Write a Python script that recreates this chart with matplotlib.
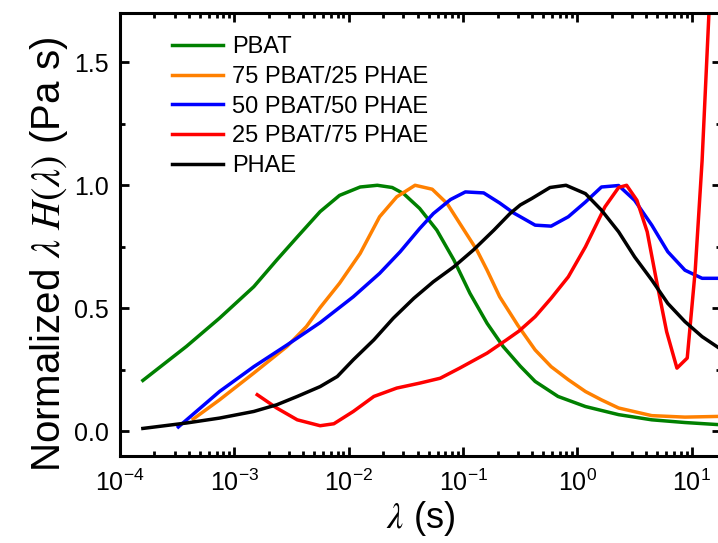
import numpy as np
import matplotlib
matplotlib.use('Agg')
import matplotlib.pyplot as plt
from matplotlib.ticker import LogLocator, MultipleLocator, NullFormatter

plt.rcParams['font.family'] = ['Liberation Sans', 'DejaVu Sans']
plt.rcParams['mathtext.fontset'] = 'stix'

# relaxation spectra, exponents of lambda (s) and normalized lambda*H(lambda)
log_lam_pbat = [-3.80, -3.42, -3.13, -2.83, -2.63, -2.45, -2.25, -2.08, -1.90, -1.75,
                -1.62, -1.52, -1.38, -1.23, -1.08, -0.94, -0.79, -0.65, -0.50, -0.37,
                -0.17, 0.07, 0.36, 0.65, 0.94, 1.25]
h_pbat = [0.207, 0.345, 0.460, 0.588, 0.696, 0.790, 0.893, 0.959, 0.993, 1.000,
          0.991, 0.966, 0.906, 0.818, 0.696, 0.561, 0.439, 0.345, 0.265, 0.203,
          0.142, 0.101, 0.068, 0.047, 0.036, 0.027]

log_lam_75 = [-3.36, -3.13, -2.83, -2.54, -2.37, -2.25, -2.08, -1.90, -1.73, -1.58,
              -1.42, -1.27, -1.14, -1.00, -0.88, -0.79, -0.68, -0.52, -0.37, -0.23,
              -0.08, 0.07, 0.21, 0.36, 0.65, 0.94, 1.25]
h_75 = [0.050, 0.128, 0.237, 0.345, 0.426, 0.503, 0.602, 0.723, 0.872, 0.953,
        1.000, 0.984, 0.926, 0.824, 0.737, 0.655, 0.547, 0.430, 0.331, 0.263,
        0.210, 0.162, 0.128, 0.095, 0.064, 0.058, 0.061]

log_lam_50 = [-3.49, -3.13, -2.83, -2.54, -2.25, -1.96, -1.73, -1.55, -1.38, -1.26,
              -1.11, -0.98, -0.82, -0.68, -0.56, -0.51, -0.37, -0.23, -0.08, 0.07,
              0.21, 0.36, 0.50, 0.65, 0.79, 0.94, 1.09, 1.25]
h_50 = [0.018, 0.162, 0.263, 0.351, 0.442, 0.547, 0.642, 0.730, 0.824, 0.885,
        0.942, 0.973, 0.969, 0.928, 0.888, 0.875, 0.838, 0.834, 0.872, 0.932,
        0.993, 0.999, 0.939, 0.838, 0.730, 0.655, 0.622, 0.622]

log_lam_25 = [-2.80, -2.63, -2.45, -2.25, -2.13, -1.96, -1.78, -1.58, -1.38, -1.20,
              -1.03, -0.79, -0.62, -0.51, -0.37, -0.23, -0.08, 0.07, 0.24, 0.36,
              0.43, 0.52, 0.61, 0.69, 0.78, 0.87, 0.96, 1.03, 1.09, 1.16]
h_25 = [0.149, 0.095, 0.047, 0.023, 0.031, 0.081, 0.142, 0.176, 0.196, 0.216,
        0.257, 0.318, 0.372, 0.408, 0.466, 0.541, 0.628, 0.750, 0.912, 0.991,
        1.000, 0.939, 0.811, 0.615, 0.405, 0.257, 0.298, 0.655, 1.100, 1.800]

log_lam_phae = [-3.80, -3.42, -3.13, -2.83, -2.63, -2.45, -2.25, -2.10, -1.96, -1.78,
                -1.61, -1.43, -1.26, -1.08, -0.91, -0.73, -0.59, -0.50, -0.40, -0.24,
                -0.10, 0.07, 0.21, 0.36, 0.50, 0.65, 0.79, 0.94, 1.09, 1.25]
h_phae = [0.012, 0.034, 0.054, 0.081, 0.108, 0.142, 0.182, 0.223, 0.291, 0.372,
          0.460, 0.541, 0.608, 0.669, 0.737, 0.818, 0.885, 0.920, 0.946, 0.991,
          1.000, 0.966, 0.899, 0.811, 0.709, 0.615, 0.520, 0.446, 0.385, 0.335]

series = [
    ('PBAT', log_lam_pbat, h_pbat, '#008000'),
    ('75 PBAT/25 PHAE', log_lam_75, h_75, '#FF8000'),
    ('50 PBAT/50 PHAE', log_lam_50, h_50, '#0000FF'),
    ('25 PBAT/75 PHAE', log_lam_25, h_25, '#FF0000'),
    ('PHAE', log_lam_phae, h_phae, '#000000'),
]

fig = plt.figure(figsize=(7.18, 5.43), dpi=100)
ax = fig.add_axes([120 / 718, 1 - 456 / 543, 601 / 718, 443 / 543])

for label, lx, h, c in series:
    ax.plot(10.0 ** np.array(lx), h, color=c, lw=2.5, label=label,
            solid_joinstyle='round')

ax.set_xscale('log')
ax.set_xlim(1e-4, 18)
ax.set_ylim(-0.1, 1.7)

ax.xaxis.set_major_locator(LogLocator(base=10, numticks=10))
ax.xaxis.set_minor_locator(LogLocator(base=10, subs=np.arange(2, 10), numticks=20))
ax.xaxis.set_minor_formatter(NullFormatter())
ax.yaxis.set_major_locator(MultipleLocator(0.5))
ax.yaxis.set_minor_locator(MultipleLocator(0.25))

ax.tick_params(which='both', direction='in', top=True, right=True, width=2,
               labelsize=18)
ax.tick_params(axis='x', pad=10)
ax.tick_params(axis='y', pad=8)
ax.tick_params(which='major', length=6.5)
ax.tick_params(which='minor', length=3.5)
for s in ax.spines.values():
    s.set_linewidth(2.2)

ax.set_xlabel(r'$\lambda$ (s)', fontsize=26, labelpad=2)
ax.set_ylabel(r'Normalized $\lambda\ H(\lambda)$ (Pa s)', fontsize=29)
ax.yaxis.set_label_coords(-0.084, 0.455)

ax.legend(loc='upper left', bbox_to_anchor=(0.087, 0.948), frameon=False,
          fontsize=17, borderpad=0, borderaxespad=0, labelspacing=0.33,
          handlelength=2.15, handletextpad=0.4)

fig.savefig('out.png', dpi=100)
